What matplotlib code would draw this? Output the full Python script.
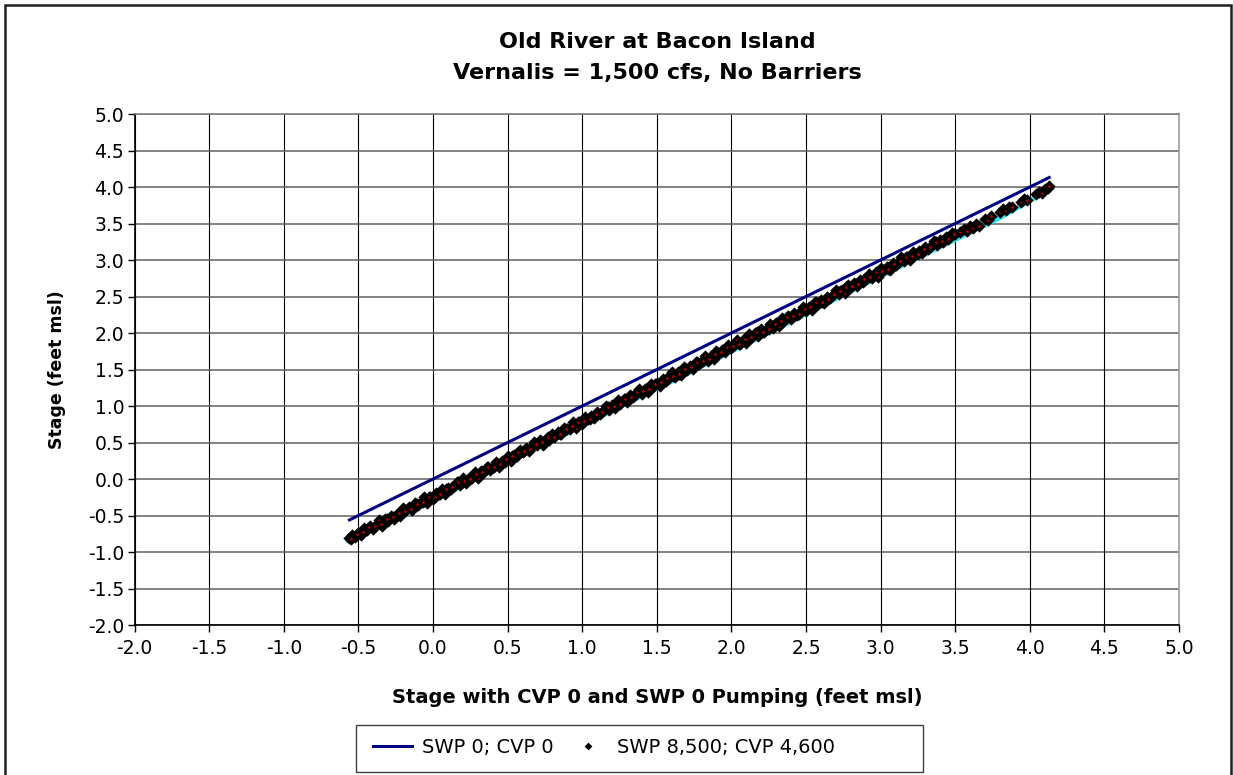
import matplotlib.pyplot as plt
from matplotlib.patches import Rectangle

plt.rcParams['font.family'] = ['DejaVu Sans']

# === Data ===
base_x = [-0.56, 4.13]
base_y = [-0.56, 4.13]
base_label = "SWP 0; CVP 0"

pump_label = "SWP 8,500; CVP 4,600"
# points along the edges of the band
pump_x = [
    -0.56, -0.54, -0.52, -0.50, -0.48, -0.46, -0.44, -0.42, -0.40, -0.38,
    -0.36, -0.34, -0.32, -0.30, -0.28, -0.26, -0.24, -0.22, -0.20, -0.18,
    -0.16, -0.14, -0.12, -0.10, -0.08, -0.06, -0.04, -0.02, 0.00, 0.02,
    0.04, 0.06, 0.08, 0.10, 0.12, 0.14, 0.16, 0.18, 0.20, 0.22,
    0.24, 0.26, 0.28, 0.30, 0.32, 0.34, 0.36, 0.38, 0.40, 0.42,
    0.44, 0.46, 0.48, 0.50, 0.52, 0.54, 0.56, 0.58, 0.60, 0.62,
    0.64, 0.66, 0.68, 0.70, 0.72, 0.74, 0.76, 0.78, 0.80, 0.82,
    0.84, 0.86, 0.88, 0.90, 0.92, 0.94, 0.96, 0.98, 1.00, 1.02,
    1.04, 1.06, 1.08, 1.10, 1.12, 1.14, 1.16, 1.18, 1.20, 1.22,
    1.24, 1.26, 1.28, 1.30, 1.32, 1.34, 1.36, 1.38, 1.40, 1.42,
    1.44, 1.46, 1.48, 1.50, 1.52, 1.54, 1.56, 1.58, 1.60, 1.62,
    1.64, 1.66, 1.68, 1.70, 1.72, 1.74, 1.76, 1.78, 1.80, 1.82,
    1.84, 1.86, 1.88, 1.90, 1.92, 1.94, 1.96, 1.98, 2.00, 2.02,
    2.04, 2.06, 2.08, 2.10, 2.12, 2.14, 2.16, 2.18, 2.20, 2.22,
    2.24, 2.26, 2.28, 2.30, 2.32, 2.34, 2.36, 2.38, 2.40, 2.42,
    2.44, 2.46, 2.48, 2.50, 2.52, 2.54, 2.56, 2.58, 2.60, 2.62,
    2.64, 2.66, 2.68, 2.70, 2.72, 2.74, 2.76, 2.78, 2.80, 2.82,
    2.84, 2.86, 2.88, 2.90, 2.92, 2.94, 2.96, 2.98, 3.00, 3.02,
    3.04, 3.06, 3.08, 3.10, 3.12, 3.14, 3.16, 3.18, 3.20, 3.22,
    3.24, 3.26, 3.28, 3.30, 3.32, 3.34, 3.36, 3.38, 3.40, 3.42,
    3.44, 3.46, 3.48, 3.50,
    3.53, 3.56, 3.58, 3.60, 3.62, 3.64, 3.66, 3.70, 3.72, 3.74,
    3.80, 3.82, 3.84, 3.86, 3.88, 3.94, 3.96, 3.98, 4.04, 4.06,
    4.08, 4.10, 4.12, 4.13,
]
pump_y = [
    -0.81, -0.76, -0.79, -0.74, -0.77, -0.67, -0.70, -0.65, -0.68, -0.63,
    -0.56, -0.64, -0.55, -0.57, -0.50, -0.55, -0.48, -0.50, -0.40, -0.43,
    -0.38, -0.42, -0.33, -0.36, -0.32, -0.25, -0.33, -0.25, -0.27, -0.19,
    -0.21, -0.14, -0.20, -0.12, -0.14, -0.10, -0.04, -0.08, 0.02, -0.05,
    0.02, 0.01, 0.09, 0.02, 0.11, 0.10, 0.16, 0.12, 0.17, 0.24,
    0.17, 0.25, 0.23, 0.31, 0.25, 0.33, 0.31, 0.40, 0.37, 0.42,
    0.38, 0.44, 0.51, 0.46, 0.53, 0.47, 0.55, 0.53, 0.62, 0.59,
    0.64, 0.61, 0.70, 0.69, 0.69, 0.78, 0.70, 0.78, 0.76, 0.85,
    0.82, 0.87, 0.83, 0.92, 0.89, 0.93, 1.00, 0.94, 1.01, 0.97,
    1.08, 1.05, 1.10, 1.06, 1.15, 1.12, 1.16, 1.23, 1.17, 1.23,
    1.19, 1.30, 1.27, 1.32, 1.28, 1.37, 1.34, 1.38, 1.46, 1.40,
    1.46, 1.42, 1.53, 1.50, 1.55, 1.51, 1.60, 1.57, 1.61, 1.68,
    1.62, 1.68, 1.64, 1.75, 1.72, 1.77, 1.74, 1.83, 1.80, 1.84,
    1.91, 1.85, 1.91, 1.87, 1.98, 1.95, 2.00, 1.96, 2.05, 2.02,
    2.06, 2.13, 2.07, 2.14, 2.10, 2.21, 2.18, 2.23, 2.19, 2.28,
    2.25, 2.29, 2.36, 2.30, 2.36, 2.32, 2.43, 2.40, 2.45, 2.41,
    2.50, 2.48, 2.52, 2.59, 2.53, 2.59, 2.55, 2.66, 2.63, 2.68,
    2.64, 2.73, 2.70, 2.74, 2.81, 2.75, 2.81, 2.77, 2.89, 2.86,
    2.91, 2.87, 2.96, 2.93, 2.97, 3.04, 2.98, 3.04, 3.00, 3.11,
    3.08, 3.13, 3.09, 3.18, 3.15, 3.19, 3.26, 3.21, 3.27, 3.24,
    3.32, 3.30, 3.37, 3.35,
    3.38, 3.43, 3.40, 3.46, 3.44, 3.49, 3.47, 3.56, 3.55, 3.60,
    3.66, 3.70, 3.68, 3.73, 3.72, 3.80, 3.83, 3.82, 3.90, 3.93,
    3.92, 3.97, 3.99, 4.01,
]
# points in the middle of the band
pump_mid_x = [
    -0.55, -0.51, -0.47, -0.43, -0.39, -0.35, -0.31, -0.27, -0.23, -0.19,
    -0.15, -0.11, -0.07, -0.03, 0.01, 0.05, 0.09, 0.13, 0.17, 0.21,
    0.25, 0.29, 0.33, 0.37, 0.41, 0.45, 0.49, 0.53, 0.57, 0.61,
    0.65, 0.69, 0.73, 0.77, 0.81, 0.85, 0.89, 0.93, 0.97, 1.01,
    1.05, 1.09, 1.13, 1.17, 1.21, 1.25, 1.29, 1.33, 1.37, 1.41,
    1.45, 1.49, 1.53, 1.57, 1.61, 1.65, 1.69, 1.73, 1.77, 1.81,
    1.85, 1.89, 1.93, 1.97, 2.01, 2.05, 2.09, 2.13, 2.17, 2.21,
    2.25, 2.29, 2.33, 2.37, 2.41, 2.45, 2.49, 2.53, 2.57, 2.61,
    2.65, 2.69, 2.73, 2.77, 2.81, 2.85, 2.89, 2.93, 2.97, 3.01,
    3.05, 3.09, 3.13, 3.17, 3.21, 3.25, 3.29, 3.33, 3.37, 3.41,
    3.45, 3.49,
]
pump_mid_y = [
    -0.82, -0.75, -0.72, -0.66, -0.65, -0.62, -0.55, -0.52, -0.46, -0.44,
    -0.41, -0.34, -0.31, -0.25, -0.24, -0.21, -0.14, -0.11, -0.04, -0.03,
    0.00, 0.07, 0.10, 0.16, 0.17, 0.20, 0.27, 0.31, 0.37, 0.38,
    0.41, 0.48, 0.51, 0.57, 0.58, 0.61, 0.69, 0.72, 0.78, 0.79,
    0.82, 0.89, 0.92, 0.98, 1.00, 1.03, 1.10, 1.13, 1.19, 1.20,
    1.23, 1.30, 1.33, 1.39, 1.41, 1.44, 1.51, 1.54, 1.60, 1.61,
    1.64, 1.71, 1.74, 1.81, 1.82, 1.85, 1.92, 1.95, 2.01, 2.02,
    2.05, 2.12, 2.16, 2.22, 2.23, 2.26, 2.33, 2.36, 2.42, 2.43,
    2.47, 2.54, 2.57, 2.63, 2.64, 2.67, 2.74, 2.77, 2.83, 2.85,
    2.88, 2.95, 2.98, 3.04, 3.05, 3.08, 3.15, 3.18, 3.25, 3.26,
    3.29, 3.36,
]

# light cyan trace that peeks out under the scatter band
trace_x = [-0.57, 0.0, 0.5, 1.0, 1.5, 2.0, 2.5, 3.0, 3.5, 3.8, 4.1]
trace_y = [-0.84, -0.30, 0.23, 0.73, 1.24, 1.75, 2.26, 2.78, 3.28, 3.58, 3.93]

ticks = [-2.0, -1.5, -1.0, -0.5, 0.0, 0.5, 1.0, 1.5, 2.0, 2.5, 3.0, 3.5, 4.0, 4.5, 5.0]
tick_labels = [f"{t:.1f}" for t in ticks]

# === Plot ===
fig = plt.figure(figsize=(12.33, 7.75), dpi=100)
ax = fig.add_axes([0.1092, 0.1935, 0.8470, 0.6594])

ax.plot(trace_x, trace_y, color='#33e0f0', linewidth=3.5, zorder=2)
ax.plot(base_x, base_y, color='#000080', linewidth=2.2, label=base_label, zorder=4)
ax.plot(pump_x + pump_mid_x, pump_y + pump_mid_y, linestyle='none', marker='D',
        markersize=4.3, markerfacecolor='#b00000', markeredgecolor='black',
        markeredgewidth=2.2, label=pump_label, zorder=3)

ax.set_xlim(-2.0, 5.0)
ax.set_ylim(-2.0, 5.0)
ax.set_xticks(ticks)
ax.set_yticks(ticks)
ax.set_xticklabels(tick_labels, fontsize=13.5)
ax.set_yticklabels(tick_labels, fontsize=13.5)
ax.tick_params(direction='out', length=5, width=1, color='black')
ax.tick_params(axis='x', pad=5)
ax.tick_params(axis='y', pad=2.5)

for t in ticks:
    ax.axvline(t, color='black', linewidth=0.8, zorder=1)
    ax.axhline(t, color='#606060', linewidth=1.1, zorder=1)

ax.spines['left'].set_color('black')
ax.spines['bottom'].set_color('black')
ax.spines['top'].set_color('#808080')
ax.spines['right'].set_color('#a0a0a0')
for s in ax.spines.values():
    s.set_linewidth(1.2)

ax.set_xlabel("Stage with CVP 0 and SWP 0 Pumping (feet msl)", fontsize=14,
              fontweight='bold', labelpad=22)
ax.set_ylabel("Stage (feet msl)", fontsize=12.5, fontweight='bold', labelpad=16)

fig.text(0.533, 0.946, "Old River at Bacon Island", ha='center', va='center',
         fontsize=16, fontweight='bold')
fig.text(0.533, 0.906, "Vernalis = 1,500 cfs, No Barriers", ha='center', va='center',
         fontsize=16, fontweight='bold')

leg = fig.legend(loc='center left', bbox_to_anchor=(0.3025, 0.0355), ncol=2,
                 fontsize=14, frameon=False, handlelength=2.0, handletextpad=0.5,
                 columnspacing=0.8, borderpad=0, borderaxespad=0, markerscale=0.4)

# legend box (wider than its entries, as in the source)
fig.patches.append(Rectangle((0.2887, 0.0039), 0.4599, 0.0606, transform=fig.transFigure,
                             fill=False, edgecolor='#404040', linewidth=1.0))

# outer chart border
fig.patches.append(Rectangle((0.004, -0.02), 0.994, 1.014, transform=fig.transFigure,
                             fill=False, edgecolor='#202020', linewidth=1.8))

plt.savefig("out.png", dpi=100)
